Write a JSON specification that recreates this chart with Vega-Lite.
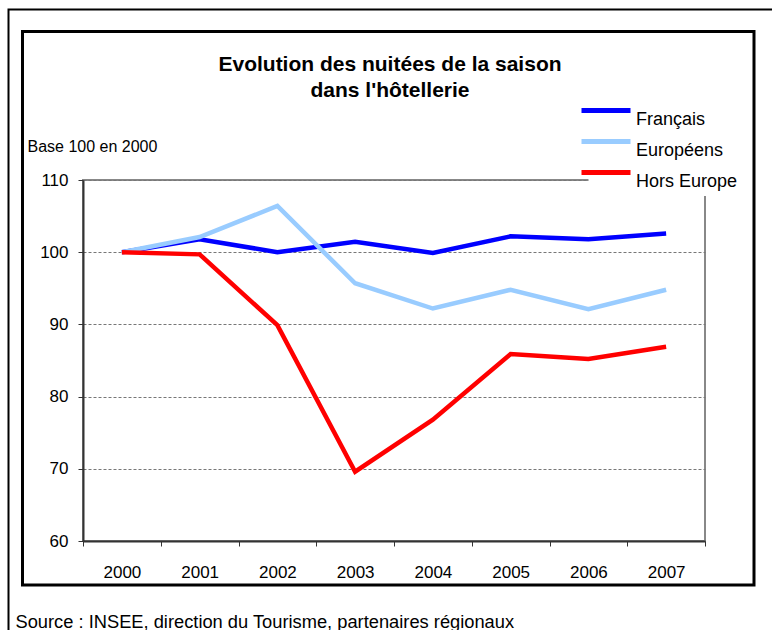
{
  "$schema": "https://vega.github.io/schema/vega-lite/v6.json",
  "width": 622,
  "height": 361,
  "autosize": "none",
  "padding": {"left": 83, "top": 180, "right": 67, "bottom": 89},
  "background": "white",
  "config": {
    "font": "Liberation Sans",
    "view": {"stroke": "#888888", "strokeWidth": 2}
  },
  "title": {
    "text": ["Evolution des nuitées de la saison", "dans l'hôtellerie"],
    "fontSize": 21,
    "fontWeight": "bold",
    "color": "black",
    "anchor": "middle",
    "frame": "group",
    "baseline": "top",
    "dx": -4,
    "offset": -92,
    "lineHeight": 26
  },
  "layer": [
    {
      "data": {"values": [{"frame": "inner"}]},
      "mark": {"type": "rect", "fill": null, "stroke": "black", "strokeWidth": 3, "clip": false},
      "encoding": {
        "x": {"value": -60.5},
        "x2": {"value": 671},
        "y": {"value": -148.5},
        "y2": {"value": 405}
      }
    },
    {
      "data": {"values": [{"frame": "outer"}]},
      "mark": {"type": "rect", "fill": null, "stroke": "black", "strokeWidth": 2, "clip": false},
      "encoding": {
        "x": {"value": -74.5},
        "x2": {"value": 800},
        "y": {"value": -170.5},
        "y2": {"value": 500}
      }
    },
    {
      "data": {
        "values": [
          {"year": "2000", "series": "Français", "value": 100},
          {"year": "2001", "series": "Français", "value": 101.8},
          {"year": "2002", "series": "Français", "value": 100},
          {"year": "2003", "series": "Français", "value": 101.45},
          {"year": "2004", "series": "Français", "value": 99.9},
          {"year": "2005", "series": "Français", "value": 102.2},
          {"year": "2006", "series": "Français", "value": 101.8},
          {"year": "2007", "series": "Français", "value": 102.6},
          {"year": "2000", "series": "Européens", "value": 100},
          {"year": "2001", "series": "Européens", "value": 102.1},
          {"year": "2002", "series": "Européens", "value": 106.4},
          {"year": "2003", "series": "Européens", "value": 95.7},
          {"year": "2004", "series": "Européens", "value": 92.2},
          {"year": "2005", "series": "Européens", "value": 94.8},
          {"year": "2006", "series": "Européens", "value": 92.1},
          {"year": "2007", "series": "Européens", "value": 94.8},
          {"year": "2000", "series": "Hors Europe", "value": 100},
          {"year": "2001", "series": "Hors Europe", "value": 99.7},
          {"year": "2002", "series": "Hors Europe", "value": 89.9},
          {"year": "2003", "series": "Hors Europe", "value": 69.6},
          {"year": "2004", "series": "Hors Europe", "value": 76.8},
          {"year": "2005", "series": "Hors Europe", "value": 85.9},
          {"year": "2006", "series": "Hors Europe", "value": 85.2},
          {"year": "2007", "series": "Hors Europe", "value": 86.9}
        ]
      },
      "mark": {"type": "line", "strokeWidth": 4.5, "strokeJoin": "miter"},
      "encoding": {
        "x": {
          "field": "year",
          "type": "ordinal",
          "bandPosition": 0.5,
          "scale": {"type": "band", "paddingInner": 0, "paddingOuter": 0},
          "axis": {
            "tickBand": "extent",
            "labelAngle": 0,
            "labelFontSize": 17,
            "labelColor": "black",
            "labelPadding": 18,
            "tickSize": 5,
            "tickColor": "#333333",
            "domainColor": "#333333",
            "domainWidth": 2,
            "grid": false,
            "title": "Source : INSEE, direction du Tourisme, partenaires régionaux",
            "titleFontSize": 18.3,
            "titleFontWeight": "normal",
            "titleColor": "black",
            "titleAnchor": "start",
            "titleAlign": "left",
            "titleBaseline": "alphabetic",
            "titleX": -68,
            "titleY": 86
          }
        },
        "y": {
          "field": "value",
          "type": "quantitative",
          "scale": {"domain": [60, 110], "nice": false, "zero": false},
          "axis": {
            "values": [60, 70, 80, 90, 100, 110],
            "labelFontSize": 17,
            "labelColor": "black",
            "labelPadding": 10,
            "tickSize": 5,
            "tickColor": "#333333",
            "domainColor": "#333333",
            "domainWidth": 2,
            "grid": true,
            "gridColor": "#777777",
            "gridDash": [3, 2],
            "gridWidth": 1,
            "title": "Base 100 en 2000",
            "titleAngle": 0,
            "titleFontSize": 16,
            "titleFontWeight": "normal",
            "titleColor": "black",
            "titleAlign": "left",
            "titleBaseline": "alphabetic",
            "titleX": -56,
            "titleY": -29
          }
        },
        "color": {
          "field": "series",
          "type": "nominal",
          "scale": {
            "domain": ["Français", "Européens", "Hors Europe"],
            "range": ["#0000FF", "#99CCFF", "#FF0000"]
          },
          "legend": {
            "title": null,
            "orient": "none",
            "legendX": 505.5,
            "legendY": -87,
            "padding": 5,
            "fillColor": "white",
            "symbolType": "M-2.45,0H2.45",
            "symbolSize": 400,
            "symbolStrokeWidth": 5,
            "labelFontSize": 18,
            "labelColor": "black",
            "labelOffset": 17.5,
            "labelBaseline": "top",
            "rowPadding": 0
          }
        }
      }
    }
  ]
}
